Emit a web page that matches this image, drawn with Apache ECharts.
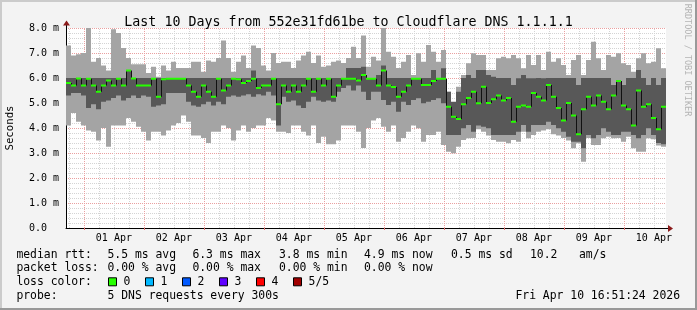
<!DOCTYPE html>
<html>
<head>
<meta charset="utf-8">
<script src="https://cdn.jsdelivr.net/npm/echarts@6/dist/echarts.min.js"></script>
<style>
html,body{margin:0;padding:0;background:#f3f3f3;}
#c{width:697px;height:310px;}
</style>
</head>
<body>
<div id="c"></div>
<script>
// ---- data ----
const TITLE = 'Last 10 Days from 552e31fd61be to Cloudflare DNS 1.1.1.1';
const START_HOUR = -7.15;   // hours relative to 01 Apr 00:00
const END_HOUR = 232.85;    // Fri Apr 10 16:51
const STEP_HOURS = 2;
const dayLabels = ['01 Apr','02 Apr','03 Apr','04 Apr','05 Apr','06 Apr','07 Apr','08 Apr','09 Apr','10 Apr'];
const Y_MAX = 8;

// five pings per step (milliseconds): min, 2nd, median, 4th, max
const rttMax = [
  7.3,6.9,6.95,7.0,8.0,6.65,6.8,6.5,6.3,7.95,7.8,7.2,6.8,6.55,6.55,6.55,6.2,6.45,6.05,6.5,
  6.3,6.65,6.4,6.4,6.4,6.65,6.65,6.25,6.7,6.65,6.8,7.5,6.8,6.25,6.65,6.9,6.4,7.3,7.2,6.5,
  6.3,7.0,6.6,6.65,6.65,6.4,6.7,6.9,7.05,6.6,6.9,6.45,6.5,6.65,6.7,6.6,6.8,7.25,6.8,7.7,
  6.45,6.85,6.7,8.0,7.05,6.85,6.4,6.65,6.92,6.12,6.99,6.65,7.32,7.05,6.65,7.12,5.45,4.99,5.65,6.12,
  6.59,6.99,6.92,6.92,6.32,6.32,6.79,6.85,6.79,6.92,6.79,6.39,6.92,6.52,6.92,6.32,7.05,6.65,6.79,6.52,
  6.12,6.72,6.92,6.12,6.72,7.45,6.79,6.32,6.92,6.85,6.99,6.59,6.52,6.25,6.79,6.99,6.59,6.65,7.19,6.39
];
const rttMin = [
  4.1,4.6,4.25,4.1,3.9,3.85,3.5,4.0,3.25,4.1,4.1,4.1,4.4,4.25,4.05,3.85,3.5,3.85,3.85,3.7,
  3.9,4.1,4.2,4.5,4.25,3.7,3.7,3.6,3.4,3.85,3.85,4.1,4.0,3.5,3.9,4.1,3.85,4.0,4.1,4.1,
  4.4,4.3,3.85,3.85,3.8,4.1,4.1,3.85,3.7,4.1,3.4,3.65,3.35,3.35,3.5,4.1,4.1,4.1,3.85,3.2,
  4.0,4.3,4.4,4.05,3.85,4.1,3.45,3.6,3.85,4.1,3.99,3.45,3.72,3.72,3.85,3.32,3.05,2.99,3.25,3.52,
  3.59,3.6,3.95,3.85,3.7,3.52,3.45,3.45,3.39,3.52,3.45,3.85,3.59,3.72,3.85,3.9,3.95,3.75,3.7,3.6,
  3.5,3.19,3.39,2.65,3.6,3.32,3.32,3.59,3.65,3.59,3.6,3.45,3.65,3.19,3.05,3.05,3.59,3.55,3.3,3.25
];
const rttP2 = [
  5.3,5.4,5.4,5.3,4.8,4.95,4.75,5.05,5.1,5.2,5.3,5.1,5.2,5.3,5.2,5.3,5.25,4.85,4.9,4.95,
  5.4,5.4,5.4,5.4,5.05,4.9,4.85,4.95,5.05,4.9,5.05,4.95,5.25,5.3,5.25,5.3,5.35,5.25,5.35,5.3,
  5.45,5.3,4.1,5.25,5.05,5.1,4.9,4.8,5.05,5.25,5.1,5.05,5.1,5.05,5.45,5.6,5.7,5.5,5.7,5.45,
  5.12,5.45,5.45,5.12,4.92,5.05,4.65,5.05,4.92,5.12,5.19,4.99,5.05,5.12,5.19,4.99,3.72,3.72,3.72,3.99,
  4.12,3.85,4.1,4.05,3.99,3.72,3.72,3.72,3.72,3.72,3.85,4.12,3.85,4.12,4.12,4.12,4.25,4.12,3.99,3.85,
  3.65,3.45,3.45,3.19,3.72,3.59,3.72,3.99,3.85,3.72,3.72,3.85,3.85,3.72,3.59,3.72,3.99,3.72,3.4,3.35
];
const rttP4 = [
  6.0,6.0,6.0,6.0,6.0,6.0,6.0,6.0,6.0,6.0,6.0,6.0,6.3,6.0,6.0,6.0,6.0,6.0,6.0,6.0,
  6.0,6.0,6.0,6.0,6.0,6.0,6.0,6.0,6.0,6.0,6.0,6.0,6.0,6.0,6.0,6.0,6.0,6.3,6.0,6.0,
  6.0,6.0,6.0,6.0,6.0,6.0,6.0,6.0,6.0,6.0,6.0,6.0,6.0,6.0,6.0,6.0,6.4,6.4,6.4,6.45,
  6.0,6.0,6.12,6.5,6.0,6.0,6.0,6.0,6.0,6.0,6.0,6.0,6.0,6.32,6.0,6.39,5.45,5.05,5.45,6.0,
  6.12,6.0,6.32,6.32,6.12,6.05,6.0,6.0,6.0,5.72,5.99,6.12,5.99,5.99,6.0,5.99,6.0,6.0,6.0,6.0,
  6.0,6.0,5.72,6.0,6.0,6.0,6.0,6.0,6.0,5.72,5.9,5.72,6.0,6.0,6.32,6.0,5.72,6.0,5.72,6.0
];
const rttMedian = [
  5.8,5.7,5.98,5.7,5.97,5.7,5.45,5.7,5.9,5.7,5.97,5.7,6.3,5.98,5.7,5.7,5.7,5.97,5.25,5.95,
  5.97,5.97,5.97,5.97,5.7,5.45,5.25,5.7,5.45,5.25,5.97,5.5,5.7,5.97,5.95,5.8,5.88,5.97,5.6,5.7,
  5.7,5.97,4.95,5.7,5.45,5.7,5.45,5.7,5.97,5.45,5.97,5.7,5.97,5.25,5.7,5.97,5.97,5.97,5.9,6.12,
  5.97,5.97,5.7,6.3,5.7,5.64,5.25,5.45,5.7,5.97,5.97,5.72,5.72,5.88,5.97,5.97,4.85,4.45,4.36,4.95,
  5.2,5.45,4.99,5.65,5.0,5.15,5.3,5.1,5.2,4.25,4.85,4.9,4.85,5.4,5.25,5.1,5.72,5.25,4.8,4.3,
  5.0,4.5,3.75,4.75,5.25,4.9,5.3,5.05,4.75,5.3,5.88,4.9,4.75,4.1,5.5,4.85,4.95,4.4,3.95,4.85
];

const rttStats = ['5.5 ms avg','6.3 ms max','3.8 ms min','4.9 ms now','0.5 ms sd','10.2','am/s'];
const lossStats = ['0.00 % avg','0.00 % max','0.00 % min','0.00 % now'];
const lossLabels = ['0','1','2','3','4','5/5'];
const lossColors = ['#26ff00','#00b8ff','#0059ff','#5e00ff','#ff0000','#a10000'];
const probeText = '5 DNS requests every 300s';
const dateText = 'Fri Apr 10 16:51:24 2026';

// ---- styles ----
const MONO = '"DejaVu Sans Mono", monospace';
const SMOKE_LIGHT = '#a4a4a4';
const SMOKE_DARK = '#585858';
const MEDIAN_COLOR = '#26ff00';
const MAJOR_GRID = '#eaa0a0';
const MINOR_GRID = '#d4d4d4';

const rows = rttMedian.map((m, i) => [START_HOUR + i * STEP_HOURS, rttMin[i], rttP2[i], m, rttP4[i], rttMax[i]]);

const noonValues = dayLabels.map((_, i) => i * 24 + 12);
const midnightValues = [];
for (let h = 0; h <= END_HOUR; h += 24) midnightValues.push(h);
const vGridHours = [];
for (let h = -6; h < END_HOUR; h += 6) vGridHours.push([h, h % 24 === 0 ? 1 : 0]);

const chart = echarts.init(document.getElementById('c'), null, {renderer: 'canvas', width: 697, height: 310});

const option = {
  backgroundColor: '#f3f3f3',
  animation: false,
  title: {
    text: TITLE, left: 'center', top: 11,
    textStyle: {fontFamily: MONO, fontSize: 13.3, fontWeight: 'normal', color: '#000'}
  },
  grid: {left: 66, top: 28, width: 600, height: 200, show: true, backgroundColor: '#fff', borderWidth: 0, outerBoundsMode: 'none'},
  xAxis: {
    type: 'value', min: START_HOUR, max: END_HOUR,
    axisLine: {show: true, onZero: false, lineStyle: {color: '#000', width: 1}},
    axisTick: {show: true, customValues: midnightValues, length: 2, lineStyle: {color: '#e07070'}},
    axisLabel: {
      customValues: noonValues, margin: 5,
      fontFamily: MONO, fontSize: 10, color: '#000',
      formatter: v => dayLabels[Math.round((v - 12) / 24)]
    },
    splitLine: {show: false}
  },
  yAxis: {
    type: 'value', min: 0, max: Y_MAX, interval: 1,
    name: 'Seconds', nameLocation: 'middle', nameGap: 50, nameRotate: 90,
    nameTextStyle: {fontFamily: MONO, fontSize: 10.7, color: '#000'},
    axisLine: {show: true, onZero: false, lineStyle: {color: '#000', width: 1}},
    axisTick: {show: false},
    axisLabel: {
      margin: 7, fontFamily: MONO, fontSize: 10, color: '#000',
      formatter: v => v === 0 ? '0.0  ' : v.toFixed(1) + ' m'
    },
    splitLine: {show: true, lineStyle: {color: MAJOR_GRID, type: [1, 1]}},
    minorTick: {show: false, splitNumber: 5},
    minorSplitLine: {show: true, lineStyle: {color: MINOR_GRID, type: [1, 1]}}
  },
  series: [
    {
      // vertical grid lines (every 6 h, red at midnight)
      type: 'custom', z: 1, silent: true, clip: true,
      data: vGridHours,
      encode: {x: 0},
      renderItem: function (params, api) {
        const h = api.value(0);
        const p0 = api.coord([h, 0]);
        const p1 = api.coord([h, Y_MAX]);
        const x = Math.round(p0[0]) + 0.5;
        return {type: 'line', shape: {x1: x, y1: p0[1], x2: x, y2: p1[1]},
          style: {stroke: api.value(1) ? MAJOR_GRID : MINOR_GRID, lineWidth: 1, lineDash: [1, 1]}};
      }
    },
    {
      type: 'custom', z: 3, silent: true, clip: true,
      data: rows,
      encode: {x: 0, y: [1, 5]},
      renderItem: function (params, api) {
        const i = params.dataIndex;
        const t = api.value(0);
        const x0 = api.coord([t, 0])[0];
        const x1 = api.coord([t + STEP_HOURS, 0])[0];
        const yMin = api.coord([t, api.value(1)])[1];
        const yP2 = api.coord([t, api.value(2)])[1];
        const yMed = api.coord([t, api.value(3)])[1];
        const yP4 = api.coord([t, api.value(4)])[1];
        const yMax = api.coord([t, api.value(5)])[1];
        const children = [
          {type: 'rect', shape: {x: x0, y: yMax, width: x1 - x0, height: yMin - yMax}, style: {fill: SMOKE_LIGHT}},
          {type: 'rect', shape: {x: x0, y: yP4, width: x1 - x0, height: yP2 - yP4}, style: {fill: SMOKE_DARK}}
        ];
        if (i > 0) {
          const yPrev = api.coord([t, rttMedian[i - 1]])[1];
          children.push({type: 'line', shape: {x1: x0 + 0.5, y1: yPrev, x2: x0 + 0.5, y2: yMed}, style: {stroke: '#111', lineWidth: 1}});
        }
        children.push({type: 'rect', shape: {x: x0, y: yMed - 1, width: x1 - x0, height: 2}, style: {fill: MEDIAN_COLOR}});
        return {type: 'group', children: children};
      }
    }
  ]
};
chart.setOption(option);

// ---- decorations & legend text ----
const pEnd = chart.convertToPixel({gridIndex: 0}, [END_HOUR, 0]);
const pTop = chart.convertToPixel({gridIndex: 0}, [START_HOUR, Y_MAX]);
const ax = Math.round(pTop[0]) + 0.5;
const ay = Math.round(pEnd[1]) + 0.5;
const ARROW = '#8b1a1a';
const txt = (id, text, x, y, extra) => Object.assign({
  type: 'text', id: id, x: x, y: y, silent: true,
  style: Object.assign({text: text, font: '11.4px ' + MONO, fill: '#000', verticalAlign: 'middle', align: 'left'}, extra || {})
});
const g = [];
// frame
g.push({type: 'rect', id: 'fL', shape: {x: 0, y: 0, width: 2, height: 310}, style: {fill: '#cbcbcb'}, silent: true});
g.push({type: 'rect', id: 'fT', shape: {x: 0, y: 0, width: 697, height: 2}, style: {fill: '#cbcbcb'}, silent: true});
g.push({type: 'rect', id: 'fR', shape: {x: 695, y: 0, width: 2, height: 310}, style: {fill: '#999'}, silent: true});
g.push({type: 'rect', id: 'fB', shape: {x: 0, y: 308, width: 697, height: 2}, style: {fill: '#999'}, silent: true});
// axis extensions and arrows
g.push({type: 'line', id: 'xExt', shape: {x1: pEnd[0], y1: ay, x2: pEnd[0] + 4, y2: ay}, style: {stroke: '#000', lineWidth: 1}, z: 10, silent: true});
g.push({type: 'polygon', id: 'xArr', shape: {points: [[pEnd[0] + 2, ay - 3.5], [pEnd[0] + 7, ay], [pEnd[0] + 2, ay + 3.5]]}, style: {fill: ARROW}, z: 10, silent: true});
g.push({type: 'line', id: 'yExt', shape: {x1: ax, y1: pTop[1], x2: ax, y2: pTop[1] - 3}, style: {stroke: '#000', lineWidth: 1}, z: 10, silent: true});
g.push({type: 'polygon', id: 'yArr', shape: {points: [[ax - 3.5, pTop[1] - 2.5], [ax, pTop[1] - 7.5], [ax + 3.5, pTop[1] - 2.5]]}, style: {fill: ARROW}, z: 10, silent: true});
// watermark
g.push(txt('wm', 'RRDTOOL / TOBI OETIKER', 687, 60, {font: '8.5px ' + MONO, fill: '#b4b4b4', align: 'center'}));
g[g.length - 1].rotation = -Math.PI / 2;
// legend rows
const ROW_Y = [254.7, 268.5, 282.3, 296];
const LX = 16.4;
const COLS = [107.5, 192.4, 279, 364, 451, 530, 579];
g.push(txt('r1', 'median rtt:', LX, ROW_Y[0]));
rttStats.forEach((s, i) => g.push(txt('r1_' + i, s, COLS[i], ROW_Y[0])));
g.push(txt('r2', 'packet loss:', LX, ROW_Y[1]));
lossStats.forEach((s, i) => g.push(txt('r2_' + i, s, COLS[i], ROW_Y[1])));
g.push(txt('r3', 'loss color:', LX, ROW_Y[2]));
lossLabels.forEach((s, i) => {
  const bx = 108 + i * 37;
  g.push({type: 'rect', id: 'lb' + i, shape: {x: bx + 0.5, y: ROW_Y[2] - 4.5, width: 8, height: 8}, style: {fill: lossColors[i], stroke: '#000', lineWidth: 1}, silent: true});
  g.push(txt('ll' + i, s, bx + 15.6, ROW_Y[2]));
});
g.push(txt('r4', 'probe:', LX, ROW_Y[3]));
g.push(txt('r4_0', probeText, COLS[0], ROW_Y[3]));
g.push(txt('r4_1', dateText, 680, ROW_Y[3], {align: 'right'}));
chart.setOption({graphic: g});
</script>
</body>
</html>
